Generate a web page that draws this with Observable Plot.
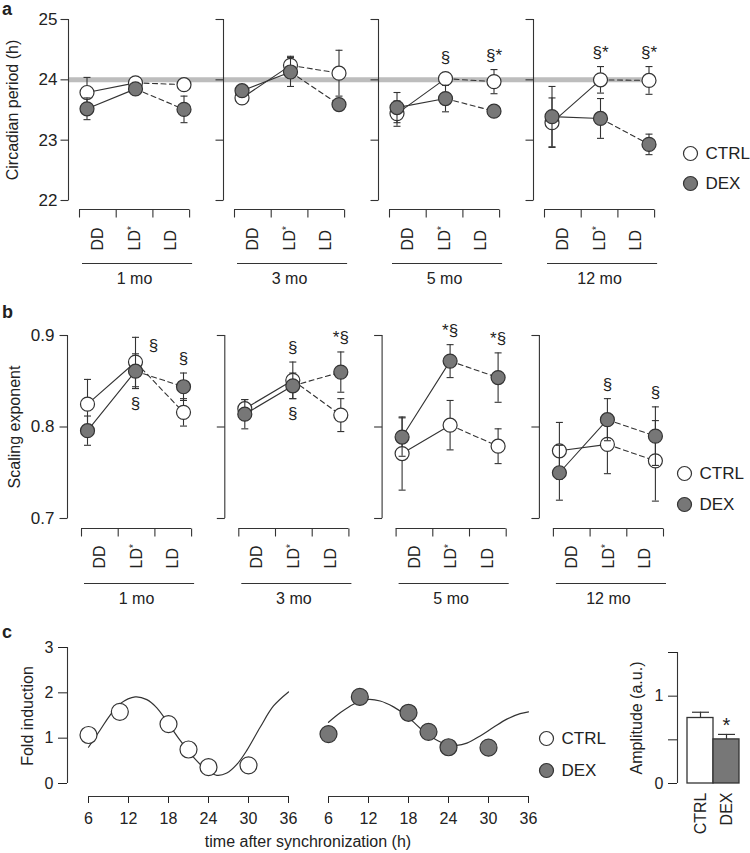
<!DOCTYPE html>
<html><head><meta charset="utf-8">
<script src="https://cdn.jsdelivr.net/npm/d3@7"></script>
<script src="https://cdn.jsdelivr.net/npm/@observablehq/plot@0.6"></script>
<style>
html,body{margin:0;padding:0;background:#fff;}
#fig{position:relative;width:750px;height:853px;overflow:hidden;background:#fff;font-family:"Liberation Sans",Arial,Helvetica,sans-serif;color:#222;}
#fig svg{position:absolute;overflow:visible;}
.lbl{position:absolute;font-weight:bold;font-size:18px;line-height:1;}
.xt{position:absolute;font-size:16px;line-height:1;white-space:nowrap;transform:translate(-50%,-50%);}
</style></head><body><div id="fig"></div><script>
// ---------------- data ----------------
const conditions = ["DD", "LD*", "LD"];
const ages = ["1 mo", "3 mo", "5 mo", "12 mo"];
const groups = ["CTRL", "DEX"];

// a — circadian period (h); rows = ages, columns = conditions
const periodCTRL   = [[23.79, 23.95, 23.92], [23.70, 24.24, 24.11], [23.44, 24.02, 23.97], [23.29, 24.00, 23.99]];
const periodCTRLse = [[0.25, 0.04, 0.05], [0.05, 0.15, 0.38], [0.21, 0.04, 0.20], [0.41, 0.22, 0.23]];
const periodDEX    = [[23.52, 23.85, 23.51], [23.82, 24.13, 23.59], [23.54, 23.69, 23.48], [23.39, 23.36, 22.93]];
const periodDEXse  = [[0.18, 0.04, 0.22], [0.05, 0.24, 0.04], [0.25, 0.22, 0.04], [0.50, 0.33, 0.17]];
const periodRef = 24;
const periodTicks = [22, 23, 24, 25];
const periodNoteAge  = ["5 mo", "5 mo", "12 mo", "12 mo"];
const periodNoteCond = ["LD*", "LD", "LD*", "LD"];
const periodNoteText = ["§", "§*", "§*", "§*"];
const periodNoteSide = ["above", "above", "above", "above"];

// b — scaling exponent
const scalingCTRL   = [[0.825, 0.871, 0.816], [0.820, 0.851, 0.813], [0.771, 0.802, 0.779], [0.774, 0.781, 0.763]];
const scalingCTRLse = [[0.027, 0.027, 0.015], [0.010, 0.020, 0.018], [0.040, 0.027, 0.019], [0.031, 0.032, 0.044]];
const scalingDEX    = [[0.796, 0.861, 0.844], [0.814, 0.845, 0.860], [0.789, 0.872, 0.854], [0.750, 0.808, 0.790]];
const scalingDEXse  = [[0.016, 0.019, 0.015], [0.016, 0.014, 0.022], [0.021, 0.018, 0.027], [0.030, 0.023, 0.032]];
const scalingTicks = [0.7, 0.8, 0.9];
const scalingNoteAge  = ["1 mo", "1 mo", "1 mo", "3 mo", "3 mo", "3 mo", "5 mo", "5 mo", "12 mo", "12 mo"];
const scalingNoteCond = ["LD*", "LD*", "LD", "LD*", "LD*", "LD", "LD*", "LD", "LD*", "LD"];
const scalingNoteText = ["§", "§", "§", "§", "§", "*§", "*§", "*§", "§", "§"];
const scalingNoteSide = ["right", "below", "above", "above", "below", "above", "above", "above", "above", "above"];

// c — fold induction after synchronization
const timeCTRL = [6, 10.7, 18, 21, 24, 30];
const foldCTRL = [1.07, 1.58, 1.31, 0.75, 0.36, 0.40];
const timeDEX  = [6, 10.7, 18, 21, 24, 30];
const foldDEX  = [1.09, 1.91, 1.56, 1.14, 0.80, 0.79];
const fitTimeCTRL = [6, 7.75, 9.25, 10.75, 13, 14.75, 16.25, 17.85, 19.75, 21.75, 23.75, 25.25, 26.75, 28.25, 29.75, 31.75, 33.75, 36];
const fitCTRL     = [0.80, 1.18, 1.51, 1.76, 1.91, 1.85, 1.67, 1.35, 0.95, 0.58, 0.29, 0.18, 0.23, 0.42, 0.73, 1.24, 1.71, 2.02];
const fitTimeDEX  = [6, 7.75, 9.75, 11.75, 13.75, 15.75, 17.75, 19.75, 21.75, 23.75, 25.25, 26.75, 28.75, 30.75, 32.75, 34.75, 36];
const fitDEX      = [1.35, 1.56, 1.75, 1.85, 1.82, 1.69, 1.49, 1.22, 1.00, 0.86, 0.84, 0.89, 1.05, 1.24, 1.42, 1.54, 1.58];
const timeTicks = [6, 12, 18, 24, 30, 36];
const foldTicks = [0, 1, 2, 3];
const amplitude   = [0.75, 0.505];
const amplitudeSE = [0.066, 0.057];
const amplitudeSig = ["", "*"];
const amplitudeTicks = [0, 0.5, 1, 1.5];

// ---------------- styling / helpers ----------------
const INK = "#333";
const DEXFILL = "#777";
const FONT = "Liberation Sans, Arial, Helvetica, sans-serif";
const baseStyle = {background: "none", fontFamily: FONT, fontSize: "16px", color: "#222", overflow: "visible"};
const fig = document.getElementById("fig");
function place(el, left, top) { el.style.position = "absolute"; el.style.left = left + "px"; el.style.top = top + "px"; fig.appendChild(el); return el; }
function fixStar(svg) {
  svg.querySelectorAll("text").forEach(t => {
    if (t.textContent === "LD*") {
      t.textContent = "LD";
      const ts = document.createElementNS("http://www.w3.org/2000/svg", "tspan");
      ts.setAttribute("dy", "-0.45em"); ts.setAttribute("font-size", "10px"); ts.textContent = "*";
      t.appendChild(ts);
    }
  });
}
const hcap = {draw(ctx, size) { const r = Math.sqrt(size / Math.PI); ctx.moveTo(-r, 0); ctx.lineTo(r, 0); }};
const leftTick = {draw(ctx, size) { const r = Math.sqrt(size / Math.PI); ctx.moveTo(-r, 0); ctx.lineTo(0, 0); }};
const downTick = {draw(ctx, size) { const r = Math.sqrt(size / Math.PI); ctx.moveTo(0, 0); ctx.lineTo(0, r); }};

function rowPlot(cfg) {
  const g = cfg.geom;
  const mt = g.yTopPx - g.top, mb = g.height - (g.yBotPx - g.top);
  const xmin = -g.ptOff / g.unit;
  const xmax = xmin + (750 - g.axis0) / g.unit;
  const axisX = i => xmin + i * g.stride / g.unit;
  const ptX = (i, c) => i * g.stride / g.unit + c;
  const brX = (i, k) => axisX(i) + (g.brOff + k * g.brBand) / g.unit;
  const [y0, y1] = cfg.yDomain;
  const rY = 7 * (y1 - y0) / (g.yBotPx - g.yTopPx);

  const pts = [];
  ages.forEach((age, i) => conditions.forEach((cond, c) => groups.forEach(grp =>
    pts.push({grp, age, i, c, v: cfg.values[grp][i][c], se: cfg.errors[grp][i][c]}))));
  const X = p => ptX(p.i, p.c);

  const notes = cfg.notes.age.map((age, k) => {
    const i = ages.indexOf(age), c = conditions.indexOf(cfg.notes.cond[k]);
    const here = pts.filter(p => p.i === i && p.c === c);
    const side = cfg.notes.side[k];
    const y = side === "below"
      ? d3.min(here, p => Math.min(p.v - p.se, p.v - rY))
      : d3.max(here, p => Math.max(p.v + p.se, p.v + rY));
    return {x: ptX(i, c), y, text: cfg.notes.text[k], side};
  });

  const marks = [];
  if (cfg.ref != null) marks.push(Plot.ruleY([cfg.ref], {x1: axisX(0), x2: ptX(3, 2), stroke: "#bdbdbd", strokeWidth: 5}));
  marks.push(
    Plot.ruleX(ages, {x: (d, i) => axisX(i), y1: y0, y2: y1, stroke: INK, strokeWidth: 1.1}),
    Plot.dot(ages.flatMap((a, i) => cfg.yTicks.map(t => ({x: axisX(i), y: t}))), {x: "x", y: "y", symbol: leftTick, r: 8, stroke: INK, fill: "none", strokeWidth: 1.1}),
    Plot.text(cfg.yTicks, {x: axisX(0), y: d => d, text: cfg.yFmt, textAnchor: "end", dx: g.tickLabDx, fontSize: 17}),
    Plot.text([cfg.yTitle], {frameAnchor: "left", text: d => d, rotate: -90, textAnchor: "middle", dx: g.titleDx, fontSize: 16})
  );
  for (const grp of groups) {
    const s = pts.filter(p => p.grp === grp);
    marks.push(
      Plot.line(s.filter(p => p.c <= 1), {x: X, y: "v", z: "age", stroke: INK, strokeWidth: 1.1}),
      Plot.line(s.filter(p => p.c >= 1), {x: X, y: "v", z: "age", stroke: INK, strokeWidth: 1.1, strokeDasharray: "5,3.5"})
    );
  }
  for (const grp of groups) {
    const s = pts.filter(p => p.grp === grp);
    marks.push(
      Plot.ruleX(s, {x: X, y1: p => p.v - p.se, y2: p => p.v + p.se, stroke: INK, strokeWidth: 1.1}),
      Plot.dot(s, {x: X, y: p => p.v + p.se, symbol: hcap, r: 3.5, stroke: INK, fill: "none", strokeWidth: 1.1}),
      Plot.dot(s, {x: X, y: p => p.v - p.se, symbol: hcap, r: 3.5, stroke: INK, fill: "none", strokeWidth: 1.1}),
      Plot.dot(s, {x: X, y: "v", r: 7, fill: grp === "CTRL" ? "white" : DEXFILL, stroke: INK, strokeWidth: 1.2})
    );
  }
  marks.push(
    Plot.text(notes.filter(n => n.side === "above"), {x: "x", y: "y", text: "text", dy: -14, fontSize: 17}),
    Plot.text(notes.filter(n => n.side === "below"), {x: "x", y: "y", text: "text", dy: 15, fontSize: 17}),
    Plot.text(notes.filter(n => n.side === "right"), {x: "x", y: "y", text: "text", dx: 18, dy: 8, fontSize: 17})
  );
  // category bracket under each panel
  marks.push(
    Plot.ruleY(ages, {y: y0, x1: (d, i) => brX(i, 0), x2: (d, i) => brX(i, 3), dy: g.brLine, stroke: INK, strokeWidth: 1.1}),
    Plot.dot(ages.flatMap((a, i) => [0, 1, 2, 3].map(k => ({x: brX(i, k)}))), {x: "x", y: y0, symbol: downTick, r: 8, dy: g.brLine, stroke: INK, fill: "none", strokeWidth: 1.1}),
    Plot.text(ages.flatMap((a, i) => conditions.map((cond, k) => ({x: brX(i, k + 0.5), cond}))), {x: "x", y: y0, text: "cond", rotate: -90, textAnchor: "start", dy: g.labDy, fontSize: 16}),
    Plot.ruleY(ages, {y: y0, x1: (d, i) => brX(i, 0) + 3 / g.unit, x2: (d, i) => brX(i, 3) + 3 / g.unit, dy: g.bottomDy, stroke: INK, strokeWidth: 1.1}),
    Plot.text(ages, {x: (d, i) => brX(i, 1.5), y: y0, text: d => d, dy: g.ageDy, fontSize: 16})
  );
  const svg = Plot.plot({
    width: 750, height: g.height, marginTop: mt, marginBottom: mb, marginLeft: g.axis0, marginRight: 0,
    x: {domain: [xmin, xmax], axis: null},
    y: {domain: [y0, y1], axis: null},
    style: baseStyle,
    marks
  });
  fixStar(svg);
  place(svg, 0, g.top);
}

function legendPlot(cx, cy, gap) {
  const svg = Plot.plot({
    width: 90, height: gap + 20, margin: 0,
    x: {domain: [0, 1], range: [10, 90], axis: null},
    y: {type: "point", domain: groups, range: [10, 10 + gap], padding: 0, axis: null},
    style: baseStyle,
    marks: [
      Plot.dot(["CTRL"], {x: 0, y: d => d, r: 7, fill: "white", stroke: INK, strokeWidth: 1.2}),
      Plot.dot(["DEX"], {x: 0, y: d => d, r: 7, fill: DEXFILL, stroke: INK, strokeWidth: 1.2}),
      Plot.text(groups, {x: 0, y: d => d, text: d => d, dx: 15, textAnchor: "start", fontSize: 17})
    ]
  });
  place(svg, cx - 10, cy - 10);
}

// ---------------- panel a ----------------
rowPlot({
  values: {CTRL: periodCTRL, DEX: periodDEX}, errors: {CTRL: periodCTRLse, DEX: periodDEXse},
  yDomain: [22, 25], yTicks: periodTicks, yFmt: d => String(d), yTitle: "Circadian period (h)", ref: periodRef,
  notes: {age: periodNoteAge, cond: periodNoteCond, text: periodNoteText, side: periodNoteSide},
  geom: {top: 0, height: 290, yTopPx: 19, yBotPx: 200, axis0: 68, stride: 155, unit: 48.5, ptOff: 18.5,
         brOff: 11, brBand: 36.7, brLine: 9, labDy: 50, bottomDy: 63, ageDy: 78, tickLabDx: -11, titleDx: -56}
});
legendPlot(690, 153, 30);

// ---------------- panel b ----------------
rowPlot({
  values: {CTRL: scalingCTRL, DEX: scalingDEX}, errors: {CTRL: scalingCTRLse, DEX: scalingDEXse},
  yDomain: [0.7, 0.9], yTicks: scalingTicks, yFmt: d => d.toFixed(1), yTitle: "Scaling exponent", ref: null,
  notes: {age: scalingNoteAge, cond: scalingNoteCond, text: scalingNoteText, side: scalingNoteSide},
  geom: {top: 300, height: 305, yTopPx: 335, yBotPx: 518, axis0: 67, stride: 157.3, unit: 48, ptOff: 20,
         brOff: 14, brBand: 36.7, brLine: 10, labDy: 50, bottomDy: 65, ageDy: 80, tickLabDx: -13, titleDx: -53}
});
legendPlot(684, 473, 31);

// ---------------- panel c ----------------
const ctrlPts = timeCTRL.map((t, i) => ({t, v: foldCTRL[i]}));
const dexPts = timeDEX.map((t, i) => ({t, v: foldDEX[i]}));
const ctrlFit = fitTimeCTRL.map((t, i) => ({t, v: fitCTRL[i]}));
const dexFit = fitTimeDEX.map((t, i) => ({t, v: fitDEX[i]}));

const c1 = Plot.plot({
  width: 300, height: 213, marginLeft: 67, marginRight: 12, marginTop: 7, marginBottom: 57,
  x: {domain: [6, 36], insetLeft: 21, ticks: timeTicks, tickFormat: d => String(d), tickSize: 7, tickPadding: 9, label: null},
  y: {domain: [0, 3], insetBottom: 13, ticks: foldTicks, tickFormat: d => String(d), tickSize: 9, tickPadding: 5, label: null},
  style: baseStyle,
  marks: [
    Plot.ruleX([6], {y1: 0, y2: 3, dx: -21, stroke: INK, strokeWidth: 1.1}),
    Plot.ruleY([0], {x1: 6, x2: 36, dy: 13, stroke: INK, strokeWidth: 1.1}),
    Plot.line(ctrlFit, {x: "t", y: "v", curve: "catmull-rom", stroke: INK, strokeWidth: 1.2}),
    Plot.dot(ctrlPts, {x: "t", y: "v", r: 8.5, fill: "white", stroke: INK, strokeWidth: 1.2}),
    Plot.text(["Fold induction"], {frameAnchor: "left", text: d => d, rotate: -90, textAnchor: "middle", dx: -40, dy: -6, fontSize: 16})
  ]
});
place(c1, 0, 640);

const c2 = Plot.plot({
  width: 240, height: 213, marginLeft: 28, marginRight: 12, marginTop: 7, marginBottom: 57,
  x: {domain: [6, 36], ticks: timeTicks, tickFormat: d => String(d), tickSize: 7, tickPadding: 9, label: null},
  y: {domain: [0, 3], insetBottom: 13, axis: null},
  style: baseStyle,
  marks: [
    Plot.ruleY([0], {x1: 6, x2: 36, dy: 13, stroke: INK, strokeWidth: 1.1}),
    Plot.line(dexFit, {x: "t", y: "v", curve: "catmull-rom", stroke: INK, strokeWidth: 1.2}),
    Plot.dot(dexPts, {x: "t", y: "v", r: 8.5, fill: DEXFILL, stroke: INK, strokeWidth: 1.2})
  ]
});
place(c2, 300, 640);

const xt = document.createElement("div");
xt.className = "xt"; xt.textContent = "time after synchronization (h)";
place(xt, 308, 842);

legendPlot(546, 738, 32);

const bars = groups.map((grp, i) => ({grp, i, v: amplitude[i], se: amplitudeSE[i], sig: amplitudeSig[i]}));
const c3 = Plot.plot({
  width: 150, height: 213, marginLeft: 77, marginRight: 11, marginTop: 12, marginBottom: 70,
  x: {domain: [-0.5, 1.5], insetLeft: 10, axis: null},
  y: {domain: [0, 1.5], ticks: amplitudeTicks, tickFormat: d => (d === 0 || d === 1 ? String(d) : ""), tickSize: 9, tickPadding: 5, label: null},
  style: baseStyle,
  marks: [
    Plot.ruleX([-0.5], {y1: 0, y2: 1.5, dx: -10, stroke: INK, strokeWidth: 1.1}),
    Plot.rect(bars.filter(b => b.grp === "CTRL"), {x1: b => b.i - 0.5, x2: b => b.i + 0.5, y1: 0, y2: "v", fill: "white", stroke: INK, strokeWidth: 1.3}),
    Plot.rect(bars.filter(b => b.grp === "DEX"), {x1: b => b.i - 0.5, x2: b => b.i + 0.5, y1: 0, y2: "v", fill: DEXFILL, stroke: INK, strokeWidth: 1.3}),
    Plot.ruleX(bars, {x: "i", y1: "v", y2: b => b.v + b.se, stroke: INK, strokeWidth: 1.2}),
    Plot.dot(bars, {x: "i", y: b => b.v + b.se, symbol: hcap, r: 8.5, stroke: INK, fill: "none", strokeWidth: 1.2}),
    Plot.text(bars, {x: "i", y: b => b.v + b.se, text: "sig", dy: -9, fontSize: 20}),
    Plot.text(bars, {x: "i", y: 0, text: "grp", rotate: -90, textAnchor: "end", dy: 9, fontSize: 16}),
    Plot.text(["Amplitude (a.u.)"], {frameAnchor: "left", text: d => d, rotate: -90, textAnchor: "middle", dx: -41, fontSize: 16})
  ]
});
place(c3, 600, 640);

// panel letters
[["a", 2, 0], ["b", 2, 303], ["c", 2, 623]].forEach(([t, x, y]) => {
  const d = document.createElement("div"); d.className = "lbl"; d.textContent = t; place(d, x, y);
});
</script></body></html>
